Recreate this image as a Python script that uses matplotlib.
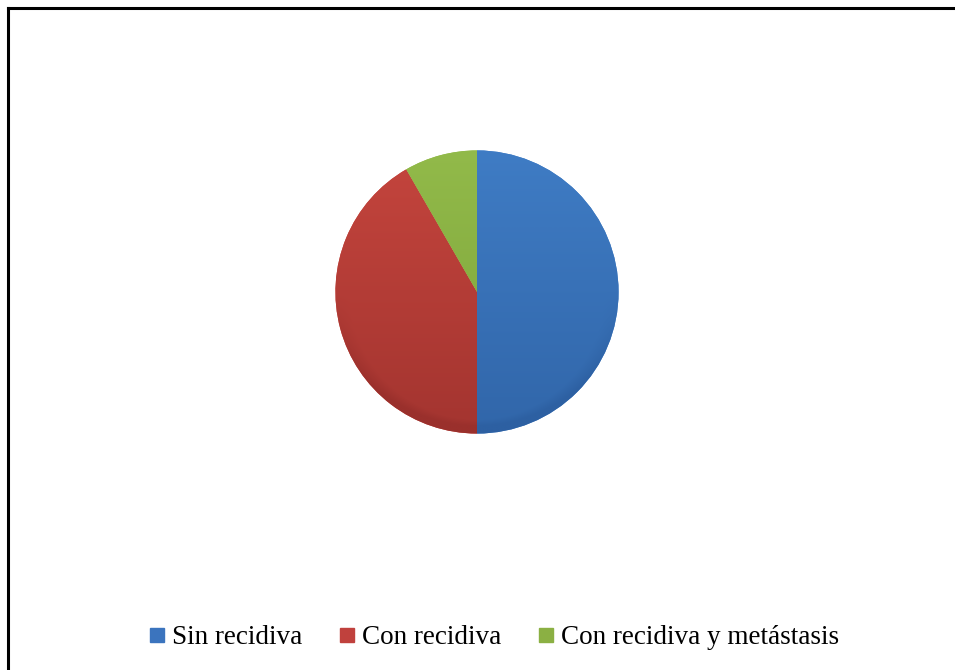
import numpy as np
import matplotlib
matplotlib.use("Agg")
import matplotlib.pyplot as plt
from matplotlib.lines import Line2D
from matplotlib.colors import LinearSegmentedColormap

categories = ["Sin recidiva", "Con recidiva", "Con recidiva y metástasis"]
counts = [6, 5, 1]

# light / dark tone for each slice (upper highlight to lower shade)
tones = [("#417fc8", "#2d60a2"), ("#c9473f", "#9a302c"), ("#95bd4c", "#769d35")]
legend_colors = ["#3b74be", "#c0413d", "#8bb043"]

fig = plt.figure(figsize=(9.55, 6.7), dpi=100)
fig.patch.set_facecolor("white")

# frame: top and left rules
fig.add_artist(Line2D([7.5 / 955, 1.0], [1 - 8 / 670, 1 - 8 / 670],
                      color="black", lw=2.2, transform=fig.transFigure))
fig.add_artist(Line2D([8 / 955, 8 / 955], [0.0, 1 - 7.5 / 670],
                      color="black", lw=2.2, transform=fig.transFigure))

cx, cy, r = 477, 292, 143
W, H = 955, 670
ax = fig.add_axes([(cx - r) / W, (H - cy - r) / H, 2 * r / W, 2 * r / H])
ax.set_aspect("equal")

wedges, _ = ax.pie(counts, startangle=90, counterclock=False,
                   colors=[t[0] for t in tones],
                   wedgeprops=dict(linewidth=0))

# shaded fill clipped to each wedge: darker toward the bottom and the lower rim
yy, xx = np.mgrid[-1:1:400j, -1:1:400j]
rad = np.sqrt(xx ** 2 + yy ** 2)
grad = 0.45 - 0.35 * yy
rim = np.clip((rad - 0.9) / 0.1, 0, 1) * np.clip(-yy, 0, 1)
grad = np.clip(grad + 0.5 * rim, 0, 1)
for w, (light, dark) in zip(wedges, tones):
    cmap = LinearSegmentedColormap.from_list("s", [light, dark])
    im = ax.imshow(grad, cmap=cmap, extent=(-1, 1, -1, 1), origin="lower",
                   vmin=0, vmax=1, zorder=2, interpolation="bilinear")
    im.set_clip_path(w)

ax.set_xlim(-1.01, 1.01)
ax.set_ylim(-1.01, 1.01)
ax.axis("off")

handles = [Line2D([], [], marker="s", linestyle="none", markersize=10,
                  markerfacecolor=c, markeredgecolor=c) for c in legend_colors]
fig.legend(handles, categories, loc="center", bbox_to_anchor=(0.516, 1 - 638 / 670),
           ncol=3, frameon=False, handletextpad=0.15, columnspacing=1.25,
           handlelength=0.8,
           prop=dict(family="Liberation Serif", size=19.5))

fig.savefig("out.png", dpi=100, facecolor="white")
